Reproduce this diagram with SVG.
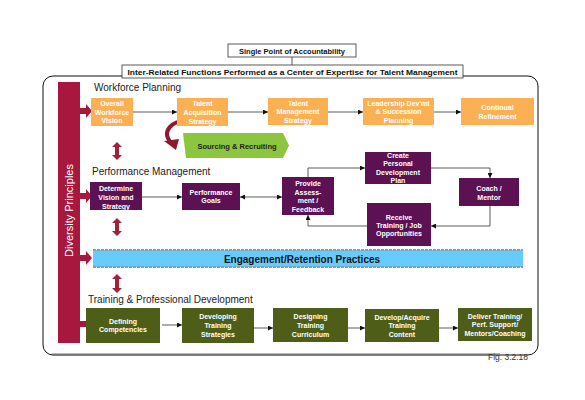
<svg xmlns="http://www.w3.org/2000/svg" width="585" height="400" viewBox="0 0 585 400">
<defs>
<style>
text{font-family:"Liberation Sans",Arial,sans-serif}
.ttl{font-size:7.5px;font-weight:bold;fill:#111;text-anchor:middle}
.sec{font-size:10px;fill:#222}
.bx{font-size:7px;font-weight:bold;fill:#fff;text-anchor:middle}
.or{fill:#FBB153}
.pu{fill:#5C1152}
.ol{fill:#4E5E18}
.ln{stroke:#333;stroke-width:0.8;fill:none}
.red{fill:#A8173D}
.dred{fill:#A3203A}
</style>
<marker id="ah" viewBox="0 0 10 10" refX="10" refY="5" markerWidth="5" markerHeight="5" orient="auto-start-reverse" markerUnits="userSpaceOnUse">
<path d="M0,0 L10,5 L0,10 z" fill="#111"/>
</marker>
</defs>
<rect width="585" height="400" fill="#fff"/>

<!-- frame -->
<g id="frame">
<rect x="43" y="76" width="495" height="279" rx="10" fill="none" stroke="#111" stroke-width="1"/>
<line x1="52" y1="354.5" x2="500" y2="354.5" stroke="#777" stroke-width="2"/>
</g>

<g id="connectors">
<line class="ln" x1="292" y1="57" x2="292" y2="65"/>
<line class="ln" x1="133" y1="112" x2="177" y2="112" marker-end="url(#ah)"/>
<line class="ln" x1="228" y1="112" x2="268" y2="112" marker-end="url(#ah)"/>
<line class="ln" x1="328" y1="112" x2="363" y2="112" marker-end="url(#ah)"/>
<line class="ln" x1="434" y1="112" x2="461" y2="112" marker-end="url(#ah)"/>
<line class="ln" x1="142" y1="197" x2="182" y2="197" marker-end="url(#ah)"/>
<line class="ln" x1="240" y1="197" x2="282" y2="197" marker-start="url(#ah)" marker-end="url(#ah)"/>
<path class="ln" d="M308,177 V168 H365" marker-end="url(#ah)"/>
<path class="ln" d="M431,168 H490 V178" marker-end="url(#ah)"/>
<path class="ln" d="M490,206 V226 H431" marker-end="url(#ah)"/>
<path class="ln" d="M367,226 H308 V215" marker-end="url(#ah)"/>
<line class="ln" x1="162" y1="325" x2="182" y2="325" marker-end="url(#ah)"/>
<line class="ln" x1="254" y1="328" x2="273" y2="328" marker-end="url(#ah)"/>
<line class="ln" x1="348" y1="328" x2="365" y2="328" marker-end="url(#ah)"/>
<line class="ln" x1="439" y1="328" x2="458" y2="328" marker-end="url(#ah)"/>
<!-- curved red arrow -->
<path d="M188,121 C172,120 161,131 171,143" fill="none" stroke="#8E1A30" stroke-width="4"/>
<polygon points="164,141 179,139 176,150" fill="#8E1A30"/>
<!-- vertical double arrows -->
<polygon class="dred" points="117,142 122,147 119,147 119,155 122,155 117,160 112,155 115,155 115,147 112,147"/>
<polygon class="dred" points="117,218 122,223 119,223 119,231 122,231 117,236 112,231 115,231 115,223 112,223"/>
<polygon class="dred" points="117,274 122,279 119,279 119,288 122,288 117,293 112,288 115,288 115,279 112,279"/>
</g>

<g id="title1">
<rect x="228" y="44" width="128" height="13" fill="#fff" stroke="#333" stroke-width="0.8"/>
<text class="ttl" x="292" y="53.5">Single Point of Accountability</text>
</g>
<g id="title2">
<rect x="122" y="65" width="341" height="13" fill="#fff" stroke="#333" stroke-width="0.8"/>
<text class="ttl" x="292.5" y="74.5" textLength="330" lengthAdjust="spacingAndGlyphs">Inter-Related Functions  Performed as a Center of Expertise for Talent Management</text>
</g>

<g id="diversity">
<rect class="red" x="58" y="82" width="22" height="261"/>
<path class="red" d="M80,108 H86 V104 L92,111 L86,118 V114 H80 Z"/>
<path class="red" d="M80,193 H86 V189 L92,196 L86,203 V199 H80 Z"/>
<path class="red" d="M80,255 H86 V251 L92,258 L86,265 V261 H80 Z"/>
<path class="red" d="M80,321 H86 V317 L92,324 L86,331 V327 H80 Z"/>
<text x="73" y="210.5" font-size="11" fill="#fff" text-anchor="middle" transform="rotate(-90 73 210.5)">Diversity Principles</text>
</g>

<text class="sec" x="94" y="91">Workforce Planning</text>
<text class="sec" x="92" y="174.5">Performance Management</text>
<text class="sec" x="88" y="303">Training &amp; Professional Development</text>

<g id="wf1"><rect class="or" x="91" y="98" width="42" height="28"/>
<text class="bx" x="112" y="106">Overall</text><text class="bx" x="112" y="114.5">Workforce</text><text class="bx" x="112" y="123">Vision</text></g>
<g id="wf2"><rect class="or" x="177" y="98" width="51" height="28"/>
<text class="bx" x="202.5" y="105.5">Talent</text><text class="bx" x="202.5" y="114.5">Acquisition</text><text class="bx" x="202.5" y="123.5">Strategy</text></g>
<g id="wf3"><rect class="or" x="268" y="98" width="60" height="27"/>
<text class="bx" x="298" y="105.5">Talent</text><text class="bx" x="298" y="114">Management</text><text class="bx" x="298" y="122.5">Strategy</text></g>
<g id="wf4"><rect class="or" x="363" y="98" width="71" height="27"/>
<text class="bx" x="398.5" y="105.5">Leadership  Dev'mt</text><text class="bx" x="398.5" y="114">&amp; Succession</text><text class="bx" x="398.5" y="122.5">Planning</text></g>
<g id="wf5"><rect class="or" x="461" y="98" width="73" height="27"/>
<text class="bx" x="497.5" y="110">Continual</text><text class="bx" x="497.5" y="119">Refinement</text></g>

<g id="sourcing">
<polygon points="183,133 283,133 289,145.5 283,158 186,158" fill="#8CC63F"/>
<text x="237" y="148.5" font-size="7.5" font-weight="bold" fill="#222" text-anchor="middle">Sourcing &amp; Recruiting</text>
</g>

<g id="pm1"><rect class="pu" x="90" y="182" width="52" height="28"/>
<text class="bx" x="116" y="190.5">Determine</text><text class="bx" x="116" y="199.5">Vision and</text><text class="bx" x="116" y="208.5">Strategy</text></g>
<g id="pm2"><rect class="pu" x="182" y="183" width="58" height="27"/>
<text class="bx" x="211" y="194.5">Performance</text><text class="bx" x="211" y="203">Goals</text></g>
<g id="pm3"><rect class="pu" x="282" y="177" width="52" height="38"/>
<text class="bx" x="308" y="185.5">Provide</text><text class="bx" x="308" y="194.5">Assess-</text><text class="bx" x="308" y="203">ment /</text><text class="bx" x="308" y="211.5">Feedback</text></g>
<g id="pm4"><rect class="pu" x="365" y="152" width="66" height="32"/>
<text class="bx" x="398" y="157.5">Create</text><text class="bx" x="398" y="166">Personal</text><text class="bx" x="398" y="174.5">Development</text><text class="bx" x="398" y="183">Plan</text></g>
<g id="pm5"><rect class="pu" x="459" y="178" width="60" height="28"/>
<text class="bx" x="489" y="190.5">Coach /</text><text class="bx" x="489" y="199.5">Mentor</text></g>
<g id="pm6"><rect class="pu" x="367" y="203" width="64" height="43"/>
<text class="bx" x="399" y="219.5">Receive</text><text class="bx" x="399" y="227.5">Training / Job</text><text class="bx" x="399" y="236">Opportunities</text></g>

<g id="engagement">
<rect x="93" y="250" width="430" height="17" fill="#66CCFF"/>
<line x1="93" y1="250" x2="523" y2="250" stroke="#999" stroke-width="2" stroke-dasharray="3 1"/>
<line x1="93" y1="267" x2="523" y2="267" stroke="#999" stroke-width="2" stroke-dasharray="3 1"/>
<text x="302" y="262.5" font-size="10" font-weight="bold" fill="#111" text-anchor="middle">Engagement/Retention Practices</text>
</g>

<g id="td1"><rect class="ol" x="86" y="308" width="74" height="35"/>
<text class="bx" x="123" y="324">Defining</text><text class="bx" x="123" y="332">Competencies</text></g>
<g id="td2"><rect class="ol" x="182" y="308" width="72" height="35"/>
<text class="bx" x="218" y="318.5">Developing</text><text class="bx" x="218" y="327.5">Training</text><text class="bx" x="218" y="336.5">Strategies</text></g>
<g id="td3"><rect class="ol" x="273" y="308" width="75" height="34"/>
<text class="bx" x="310.5" y="318.5">Designing</text><text class="bx" x="310.5" y="327.5">Training</text><text class="bx" x="310.5" y="336.5">Curriculum</text></g>
<g id="td4"><rect class="ol" x="365" y="309" width="74" height="33"/>
<text class="bx" x="402" y="319.5">Develop/Acquire</text><text class="bx" x="402" y="328">Training</text><text class="bx" x="402" y="336.5">Content</text></g>
<g id="td5"><rect class="ol" x="458" y="308" width="74" height="33"/>
<text class="bx" x="495" y="318.5">Deliver Training/</text><text class="bx" x="495" y="327">Perf. Support/</text><text class="bx" x="495" y="335.5">Mentors/Coaching</text></g>

<text x="488" y="360" font-size="9" fill="#333" textLength="40" lengthAdjust="spacingAndGlyphs">Fig. 3.2.18</text>
</svg>
